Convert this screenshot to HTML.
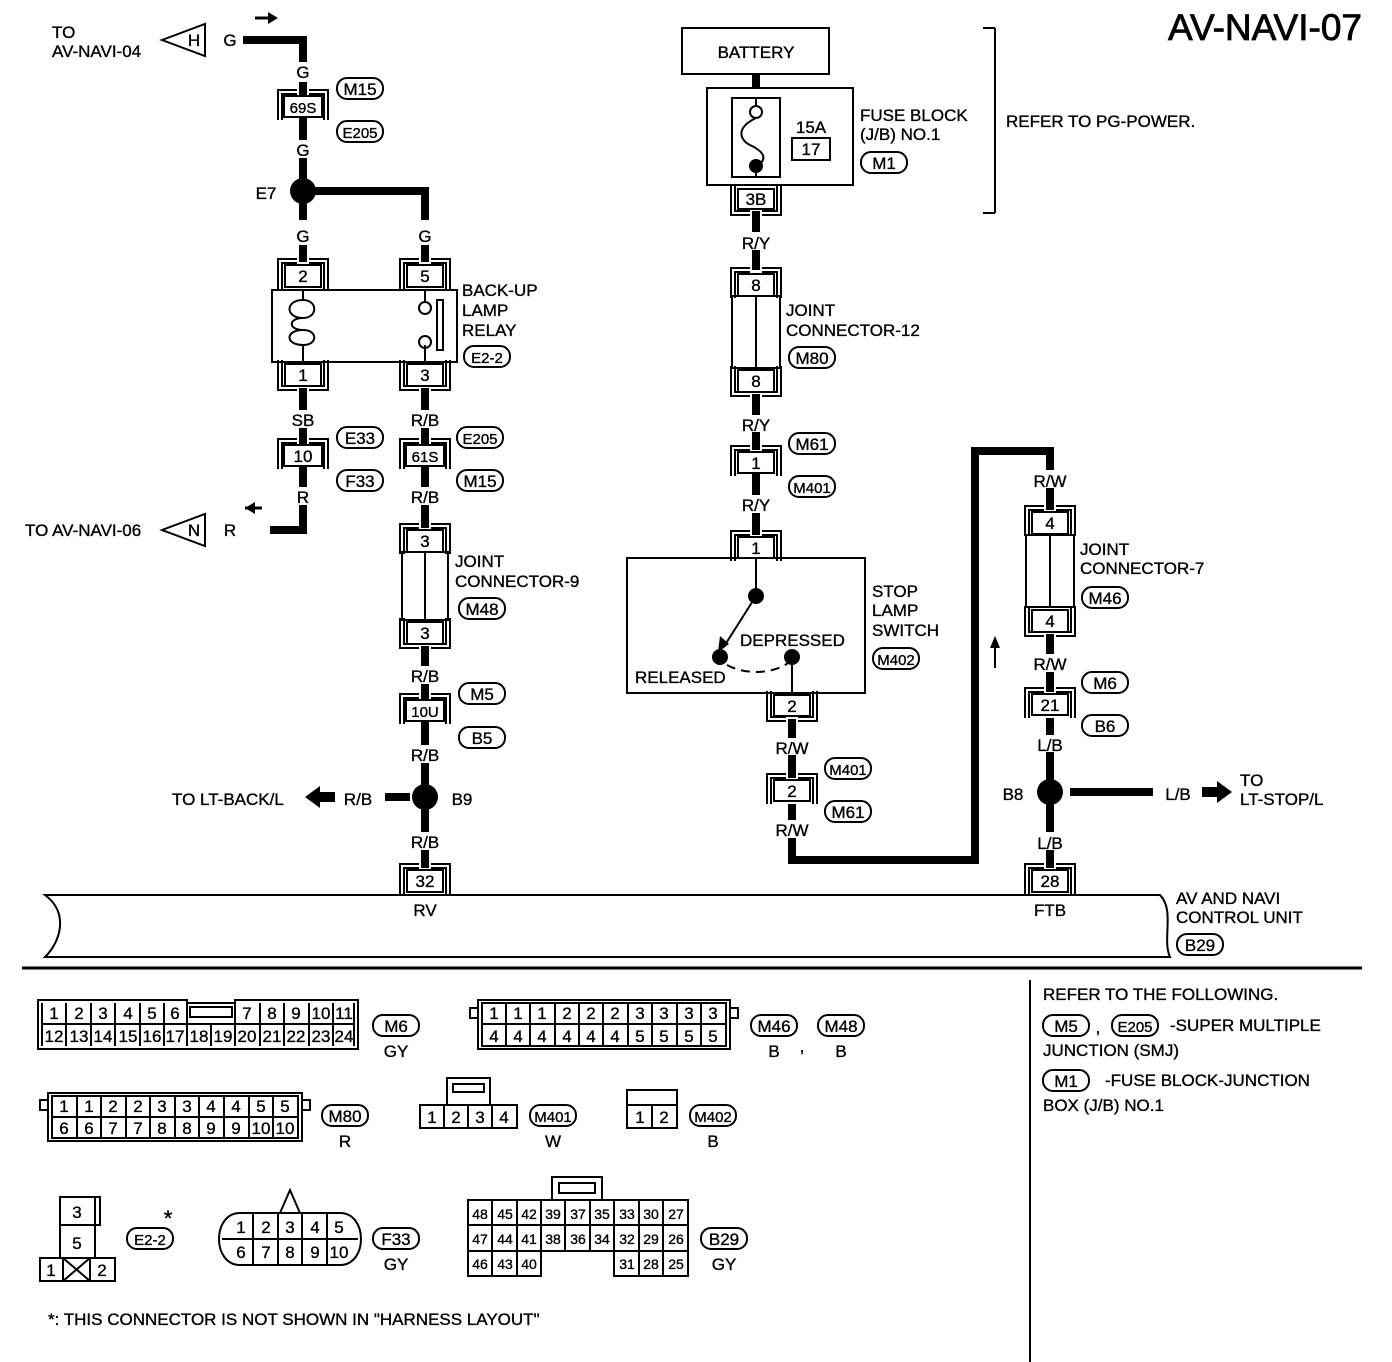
<!DOCTYPE html>
<html><head><meta charset="utf-8"><style>
html,body{margin:0;padding:0;background:#fff}
svg{display:block}
text{font-family:"Liberation Sans",Arial,sans-serif;font-size:17px;fill:#000;stroke:#000;stroke-width:0.35}
.m{text-anchor:middle}
.s{font-size:15px}
</style></head><body>
<svg width="1392" height="1362" viewBox="0 0 1392 1362" xmlns="http://www.w3.org/2000/svg">
<defs>
<path id="bt" d="M-25,24 V-6 H-6 M6,-6 H25 V24 M-21,24 V-2 H-6 M6,-2 H21 V24" fill="none" stroke="#000" stroke-width="2"/>
<path id="bb" d="M-25,-4 V26 H-6 M6,26 H25 V-4 M-21,-4 V22 H-6 M6,22 H21 V-4" fill="none" stroke="#000" stroke-width="2"/>
</defs>
<g fill="none" stroke="#000">
<g stroke-width="8">
<path d="M243,40 H303 V62"/><path d="M303,82 V96"/><path d="M303,118 V140"/><path d="M303,158 V220"/>
<path d="M303,191 H425 V220"/><path d="M303,245 V262"/><path d="M425,245 V262"/>
<path d="M303,388 V410"/><path d="M425,388 V410"/>
<path d="M303,428 V445"/><path d="M425,428 V445"/><path d="M303,467 V487"/><path d="M425,467 V487"/>
<path d="M303,505 V530 H270"/><path d="M425,505 V528"/><path d="M425,646 V666"/><path d="M425,684 V700"/>
<path d="M425,722 V745"/><path d="M425,763 V832"/><path d="M385,797 H410"/><path d="M425,850 V868"/>
<path d="M756,74 V88"/><path d="M756,211 V232"/><path d="M756,250 V270"/><path d="M756,394 V415"/>
<path d="M756,432 V450"/><path d="M756,474 V495"/><path d="M756,513 V535"/>
<path d="M792,719 V738"/><path d="M792,755 V778"/><path d="M792,804 V820"/>
<path d="M792,838 V860 H975 V451 H1050 V470"/>
<path d="M1050,488 V510"/><path d="M1050,634 V654"/><path d="M1050,672 V692"/><path d="M1050,718 V735"/>
<path d="M1050,752 V832"/><path d="M1070,792 H1153"/><path d="M1050,850 V868"/>
</g>
<path d="M255,18 H270" stroke-width="3"/><path d="M245,508 H262" stroke-width="3"/>
<path d="M995,668 V645" stroke-width="2"/>
</g>
<g fill="#000">
<polygon points="268,12 278,18 268,24"/><polygon points="255,502 245,508 255,514"/>
<polygon points="990,648 995,636 1000,648"/>
<polygon points="305,797 320,786 320,792 335,792 335,802 320,802 320,808"/>
<polygon points="1232,792 1217,781 1217,787 1202,787 1202,797 1217,797 1217,803"/>
<circle cx="303" cy="191" r="13"/><circle cx="425" cy="797" r="13"/><circle cx="1050" cy="792" r="13"/>
</g>
<g fill="#fff" stroke="#000" stroke-width="2">
<polygon points="162,40 205,24 205,56"/><polygon points="162,530 205,514 205,546"/>
</g>
<text x="194" y="46" class="m">H</text><text x="194" y="536" class="m">N</text>
<text x="52" y="38">TO</text><text x="52" y="57">AV-NAVI-04</text>
<text x="230" y="46" class="m">G</text>
<text x="25" y="536">TO AV-NAVI-06</text><text x="230" y="536" class="m">R</text>

<g fill="#fff" stroke="#000" stroke-width="2">
<rect x="284" y="96" width="38" height="21"/><rect x="284" y="445" width="38" height="21"/>
<rect x="406" y="445" width="38" height="21"/><rect x="406" y="700" width="38" height="21"/>
<rect x="285" y="265" width="36" height="22"/><rect x="407" y="265" width="36" height="22"/>
<rect x="285" y="364" width="36" height="22"/><rect x="407" y="364" width="36" height="22"/>
<rect x="272" y="290" width="185" height="72"/>
<rect x="407" y="530" width="36" height="22"/><rect x="402" y="552" width="46" height="68"/><rect x="407" y="622" width="36" height="22"/>
<rect x="407" y="870" width="36" height="22"/>
<rect x="682" y="28" width="147" height="46"/>
<rect x="707" y="88" width="146" height="97"/><rect x="732" y="98" width="48" height="79"/>
<rect x="792" y="138" width="38" height="22"/>
<rect x="738" y="189" width="36" height="20"/>
<rect x="738" y="274" width="36" height="22"/><rect x="732" y="296" width="48" height="72"/><rect x="738" y="370" width="36" height="22"/>
<rect x="738" y="452" width="36" height="21"/><rect x="738" y="537" width="36" height="21"/>
<rect x="627" y="558" width="238" height="135"/>
<rect x="774" y="695" width="36" height="21"/><rect x="774" y="780" width="36" height="21"/>
<rect x="1032" y="512" width="36" height="22"/><rect x="1026" y="535" width="48" height="72"/><rect x="1032" y="610" width="36" height="22"/>
<rect x="1032" y="694" width="36" height="21"/><rect x="1032" y="870" width="36" height="22"/>
</g>
<g stroke="#000" stroke-width="2" fill="none">
<path d="M425,552 V620 M756,296 V368 M1050,535 V607"/>
<path d="M303,290 V300 C318,300 318,318 303,318 C288,318 288,330 303,330 C318,330 318,345 303,345 V362 M303,300 C285,300 285,318 303,318 M303,330 C285,330 285,345 303,345"/>
<path d="M425,290 V302 M425,345 V362"/><circle cx="425" cy="308" r="6"/><circle cx="425" cy="342" r="6"/>
<rect x="437" y="300" width="6" height="50"/>
<path d="M756,98 V106 M756,170 V177"/><circle cx="756" cy="112" r="6" fill="#fff"/>
<path d="M756,118 C735,128 740,140 750,145 C765,152 768,160 756,166"/>
<path d="M756,558 V596 L723,648"/><path d="M727,665 C745,675 775,675 792,660" stroke-dasharray="9,6"/>
<path d="M792,657 V693"/>
<path d="M995,28 H983 M995,28 V213 M995,213 H983"/>
<path d="M45,895 H1160 C1175,910 1162,940 1170,957 H45 C62,940 68,912 45,895 Z"/>
<path d="M22,968 H1362" stroke-width="3"/><path d="M1030,980 V1362" stroke-width="2"/>
</g>
<g fill="#000"><circle cx="756" cy="166" r="7"/><circle cx="756" cy="596" r="8"/><circle cx="720" cy="657" r="8"/><circle cx="792" cy="657" r="8"/>
<polygon points="718,652 720,636 729,644"/></g>
<use href="#bt" x="303" y="96"/><use href="#bt" x="303" y="445"/><use href="#bt" x="425" y="445"/><use href="#bt" x="425" y="700"/>
<use href="#bt" x="303" y="265"/><use href="#bt" x="425" y="265"/><use href="#bb" x="303" y="364"/><use href="#bb" x="425" y="364"/>
<use href="#bt" x="425" y="530"/><use href="#bb" x="425" y="622"/><use href="#bt" x="425" y="870"/>
<use href="#bb" x="756" y="189"/><use href="#bt" x="756" y="274"/><use href="#bb" x="756" y="370"/>
<use href="#bt" x="756" y="452"/><use href="#bt" x="756" y="537"/><use href="#bb" x="792" y="695"/><use href="#bt" x="792" y="780"/>
<use href="#bt" x="1050" y="512"/><use href="#bb" x="1050" y="610"/><use href="#bt" x="1050" y="694"/><use href="#bt" x="1050" y="870"/>

<g fill="#fff" stroke="#000" stroke-width="2">
<rect x="337" y="78" width="46" height="21" rx="10"/><rect x="337" y="121" width="46" height="21" rx="10"/>
<rect x="464" y="346" width="46" height="21" rx="10"/>
<rect x="337" y="427" width="46" height="21" rx="10"/><rect x="337" y="470" width="46" height="21" rx="10"/>
<rect x="457" y="427" width="46" height="21" rx="10"/><rect x="457" y="470" width="46" height="21" rx="10"/>
<rect x="459" y="598" width="46" height="21" rx="10"/><rect x="459" y="683" width="46" height="21" rx="10"/><rect x="459" y="727" width="46" height="21" rx="10"/>
<rect x="861" y="152" width="46" height="21" rx="10"/><rect x="789" y="347" width="46" height="21" rx="10"/>
<rect x="789" y="433" width="46" height="21" rx="10"/><rect x="789" y="476" width="46" height="21" rx="10"/>
<rect x="873" y="648" width="46" height="21" rx="10"/><rect x="825" y="758" width="46" height="21" rx="10"/><rect x="825" y="801" width="46" height="21" rx="10"/>
<rect x="1082" y="587" width="46" height="21" rx="10"/><rect x="1082" y="672" width="46" height="21" rx="10"/><rect x="1082" y="715" width="46" height="21" rx="10"/>
<rect x="1177" y="934" width="46" height="21" rx="10"/>
<rect x="373" y="1015" width="46" height="21" rx="10"/><rect x="751" y="1015" width="46" height="21" rx="10"/><rect x="818" y="1015" width="46" height="21" rx="10"/>
<rect x="322" y="1105" width="46" height="21" rx="10"/><rect x="530" y="1105" width="46" height="21" rx="10"/><rect x="690" y="1105" width="46" height="21" rx="10"/>
<rect x="127" y="1228" width="46" height="21" rx="10"/><rect x="373" y="1228" width="46" height="21" rx="10"/><rect x="701" y="1228" width="46" height="21" rx="10"/>
<rect x="1043" y="1015" width="46" height="21" rx="10"/><rect x="1112" y="1015" width="46" height="21" rx="10"/><rect x="1043" y="1070" width="46" height="21" rx="10"/>
</g>
<g class="m">
<text x="360" y="95" class="m">M15</text><text x="360" y="138" class="m s">E205</text><text x="487" y="363" class="m s">E2-2</text>
<text x="360" y="444" class="m">E33</text><text x="360" y="487" class="m">F33</text>
<text x="480" y="444" class="m s">E205</text><text x="480" y="487" class="m">M15</text>
<text x="482" y="615" class="m">M48</text><text x="482" y="700" class="m">M5</text><text x="482" y="744" class="m">B5</text>
<text x="884" y="169" class="m">M1</text><text x="812" y="364" class="m">M80</text>
<text x="812" y="450" class="m">M61</text><text x="812" y="493" class="m s">M401</text>
<text x="896" y="665" class="m s">M402</text><text x="848" y="775" class="m s">M401</text><text x="848" y="818" class="m">M61</text>
<text x="1105" y="604" class="m">M46</text><text x="1105" y="689" class="m">M6</text><text x="1105" y="732" class="m">B6</text>
<text x="1200" y="951" class="m">B29</text>
<text x="396" y="1032" class="m">M6</text><text x="774" y="1032" class="m">M46</text><text x="841" y="1032" class="m">M48</text>
<text x="345" y="1122" class="m">M80</text><text x="553" y="1122" class="m s">M401</text><text x="713" y="1122" class="m s">M402</text>
<text x="150" y="1245" class="m s">E2-2</text><text x="396" y="1245" class="m">F33</text><text x="724" y="1245" class="m">B29</text>
<text x="1066" y="1032" class="m">M5</text><text x="1135" y="1032" class="m s">E205</text><text x="1066" y="1087" class="m">M1</text>
</g>

<g>
<text x="303" y="113" class="m s">69S</text><text x="303" y="462" class="m">10</text><text x="425" y="462" class="m s">61S</text><text x="425" y="717" class="m s">10U</text>
<text x="303" y="282" class="m">2</text><text x="425" y="282" class="m">5</text><text x="303" y="381" class="m">1</text><text x="425" y="381" class="m">3</text>
<text x="425" y="547" class="m">3</text><text x="425" y="639" class="m">3</text><text x="425" y="887" class="m">32</text>
<text x="756" y="58" class="m">BATTERY</text><text x="811" y="133" class="m">15A</text><text x="811" y="155" class="m">17</text>
<text x="756" y="205" class="m">3B</text><text x="756" y="291" class="m">8</text><text x="756" y="387" class="m">8</text>
<text x="756" y="469" class="m">1</text><text x="756" y="554" class="m">1</text><text x="792" y="712" class="m">2</text><text x="792" y="797" class="m">2</text>
<text x="1050" y="529" class="m">4</text><text x="1050" y="627" class="m">4</text><text x="1050" y="711" class="m">21</text><text x="1050" y="887" class="m">28</text>
<text x="303" y="78" class="m">G</text><text x="303" y="156" class="m">G</text><text x="303" y="242" class="m">G</text><text x="425" y="242" class="m">G</text>
<text x="266" y="199" class="m">E7</text>
<text x="303" y="426" class="m">SB</text><text x="425" y="426" class="m">R/B</text><text x="303" y="503" class="m">R</text><text x="425" y="503" class="m">R/B</text>
<text x="425" y="682" class="m">R/B</text><text x="425" y="761" class="m">R/B</text><text x="425" y="848" class="m">R/B</text>
<text x="462" y="805" class="m">B9</text><text x="358" y="805" class="m">R/B</text><text x="172" y="805">TO LT-BACK/L</text>
<text x="425" y="916" class="m">RV</text><text x="1050" y="916" class="m">FTB</text>
<text x="756" y="249" class="m">R/Y</text><text x="756" y="431" class="m">R/Y</text><text x="756" y="511" class="m">R/Y</text>
<text x="792" y="754" class="m">R/W</text><text x="792" y="836" class="m">R/W</text>
<text x="1050" y="487" class="m">R/W</text><text x="1050" y="670" class="m">R/W</text><text x="1050" y="751" class="m">L/B</text><text x="1050" y="849" class="m">L/B</text>
<text x="1013" y="800" class="m">B8</text><text x="1178" y="800" class="m">L/B</text>
<text x="1240" y="786">TO</text><text x="1240" y="805">LT-STOP/L</text>
<text x="462" y="296">BACK-UP</text><text x="462" y="316">LAMP</text><text x="462" y="336">RELAY</text>
<text x="455" y="567">JOINT</text><text x="455" y="587">CONNECTOR-9</text>
<text x="860" y="121">FUSE BLOCK</text><text x="860" y="140">(J/B) NO.1</text>
<text x="1006" y="127">REFER TO PG-POWER.</text>
<text x="786" y="316">JOINT</text><text x="786" y="336">CONNECTOR-12</text>
<text x="872" y="597">STOP</text><text x="872" y="616">LAMP</text><text x="872" y="636">SWITCH</text>
<text x="740" y="646">DEPRESSED</text><text x="635" y="683">RELEASED</text>
<text x="1080" y="555">JOINT</text><text x="1080" y="574">CONNECTOR-7</text>
<text x="1176" y="904">AV AND NAVI</text><text x="1176" y="923">CONTROL UNIT</text>
<text x="1362" y="40" style="font-size:37px;text-anchor:end;stroke-width:0.8">AV-NAVI-07</text>
</g>

<g fill="none" stroke="#000" stroke-width="2">
<path d="M38,1000 H187 V1003 H235 V1000 H358 V1049 H38 Z"/>
<path d="M42,1024 H354"/>
<rect x="190" y="1007" width="42" height="10"/>
<path d="M66,1003V1046 M91,1003V1046 M115,1003V1046 M140,1003V1046 M164,1003V1046 M187,1003V1046 M211,1025V1046 M235,1003V1046 M260,1003V1046 M284,1003V1046 M309,1003V1046 M333,1003V1046"/>
<path d="M42,1003 V1046 M354,1003 V1046"/>
<rect x="478" y="1000" width="252" height="49"/><rect x="470" y="1008" width="8" height="10"/><rect x="730" y="1008" width="8" height="10"/>
<path d="M482,1024 H726 M482,1003 V1046 H726 V1003 Z M506,1003V1046 M530,1003V1046 M555,1003V1046 M579,1003V1046 M603,1003V1046 M628,1003V1046 M652,1003V1046 M677,1003V1046 M701,1003V1046"/>
<rect x="48" y="1093" width="254" height="48"/><rect x="40" y="1100" width="8" height="10"/><rect x="302" y="1100" width="8" height="10"/>
<path d="M52,1117 H298 M52,1096 V1138 H298 V1096 Z M77,1096V1138 M101,1096V1138 M126,1096V1138 M150,1096V1138 M175,1096V1138 M199,1096V1138 M224,1096V1138 M249,1096V1138 M273,1096V1138"/>
<rect x="420" y="1105" width="97" height="23"/><path d="M444,1105V1128 M468,1105V1128 M492,1105V1128"/>
<rect x="447" y="1078" width="43" height="27"/><rect x="453" y="1084" width="31" height="8"/>
<rect x="627" y="1090" width="50" height="38"/><path d="M627,1105 H677 M652,1105V1128"/>
<rect x="60" y="1197" width="35" height="28"/><path d="M95,1197 H100 V1225 H95"/><rect x="60" y="1225" width="35" height="33"/>
<rect x="40" y="1258" width="75" height="23"/><path d="M63,1258V1281 M90,1258V1281 M63,1258 L90,1281 M90,1258 L63,1281"/>
<path d="M240,1213 H340 C368,1213 368,1265 340,1265 H240 C212,1265 212,1213 240,1213 Z M222,1239 H358"/>
<path d="M253,1213V1265 M278,1213V1265 M302,1213V1265 M327,1213V1265 M280,1213 L290,1190 L300,1213"/>
<path d="M468,1200 H688 V1276 H614 V1251 H541 V1276 H468 Z M468,1225 H688 M468,1251 H541 M614,1251 H688"/>
<path d="M492,1200V1276 M517,1200V1276 M541,1200V1251 M565,1200V1251 M590,1200V1251 M614,1200V1276 M639,1200V1276 M663,1200V1276"/>
<rect x="552" y="1177" width="50" height="23"/><rect x="559" y="1183" width="36" height="10"/>
</g>
<g class="s" style="font-size:16px">
<text x="54" y="1019" class="m">1</text><text x="79" y="1019" class="m">2</text><text x="103" y="1019" class="m">3</text><text x="128" y="1019" class="m">4</text><text x="152" y="1019" class="m">5</text><text x="175" y="1019" class="m">6</text>
<text x="247" y="1019" class="m">7</text><text x="272" y="1019" class="m">8</text><text x="296" y="1019" class="m">9</text><text x="321" y="1019" class="m">10</text><text x="344" y="1019" class="m">11</text>
<text x="54" y="1042" class="m">12</text><text x="79" y="1042" class="m">13</text><text x="103" y="1042" class="m">14</text><text x="128" y="1042" class="m">15</text><text x="152" y="1042" class="m">16</text><text x="175" y="1042" class="m">17</text><text x="199" y="1042" class="m">18</text><text x="223" y="1042" class="m">19</text><text x="247" y="1042" class="m">20</text><text x="272" y="1042" class="m">21</text><text x="296" y="1042" class="m">22</text><text x="321" y="1042" class="m">23</text><text x="344" y="1042" class="m">24</text>
<text x="494" y="1019" class="m">1</text><text x="518" y="1019" class="m">1</text><text x="542" y="1019" class="m">1</text><text x="567" y="1019" class="m">2</text><text x="591" y="1019" class="m">2</text><text x="615" y="1019" class="m">2</text><text x="640" y="1019" class="m">3</text><text x="664" y="1019" class="m">3</text><text x="689" y="1019" class="m">3</text><text x="713" y="1019" class="m">3</text>
<text x="494" y="1042" class="m">4</text><text x="518" y="1042" class="m">4</text><text x="542" y="1042" class="m">4</text><text x="567" y="1042" class="m">4</text><text x="591" y="1042" class="m">4</text><text x="615" y="1042" class="m">4</text><text x="640" y="1042" class="m">5</text><text x="664" y="1042" class="m">5</text><text x="689" y="1042" class="m">5</text><text x="713" y="1042" class="m">5</text>
<text x="64" y="1112" class="m">1</text><text x="89" y="1112" class="m">1</text><text x="113" y="1112" class="m">2</text><text x="138" y="1112" class="m">2</text><text x="162" y="1112" class="m">3</text><text x="187" y="1112" class="m">3</text><text x="211" y="1112" class="m">4</text><text x="236" y="1112" class="m">4</text><text x="261" y="1112" class="m">5</text><text x="285" y="1112" class="m">5</text>
<text x="64" y="1134" class="m">6</text><text x="89" y="1134" class="m">6</text><text x="113" y="1134" class="m">7</text><text x="138" y="1134" class="m">7</text><text x="162" y="1134" class="m">8</text><text x="187" y="1134" class="m">8</text><text x="211" y="1134" class="m">9</text><text x="236" y="1134" class="m">9</text><text x="261" y="1134" class="m">10</text><text x="285" y="1134" class="m">10</text>
<text x="432" y="1123" class="m">1</text><text x="456" y="1123" class="m">2</text><text x="480" y="1123" class="m">3</text><text x="504" y="1123" class="m">4</text>
<text x="640" y="1123" class="m">1</text><text x="664" y="1123" class="m">2</text>
<text x="77" y="1218" class="m">3</text><text x="77" y="1249" class="m">5</text><text x="51" y="1276" class="m">1</text><text x="102" y="1276" class="m">2</text>
<text x="168" y="1226" class="m" style="font-size:22px">*</text>
<text x="241" y="1233" class="m">1</text><text x="266" y="1233" class="m">2</text><text x="290" y="1233" class="m">3</text><text x="315" y="1233" class="m">4</text><text x="339" y="1233" class="m">5</text>
<text x="241" y="1258" class="m">6</text><text x="266" y="1258" class="m">7</text><text x="290" y="1258" class="m">8</text><text x="315" y="1258" class="m">9</text><text x="339" y="1258" class="m">10</text>
</g>
<g>
<text x="480" y="1219" class="m" style="font-size:14px">48</text><text x="505" y="1219" class="m" style="font-size:14px">45</text><text x="529" y="1219" class="m" style="font-size:14px">42</text><text x="553" y="1219" class="m" style="font-size:14px">39</text><text x="578" y="1219" class="m" style="font-size:14px">37</text><text x="602" y="1219" class="m" style="font-size:14px">35</text><text x="627" y="1219" class="m" style="font-size:14px">33</text><text x="651" y="1219" class="m" style="font-size:14px">30</text><text x="676" y="1219" class="m" style="font-size:14px">27</text>
<text x="480" y="1244" class="m" style="font-size:14px">47</text><text x="505" y="1244" class="m" style="font-size:14px">44</text><text x="529" y="1244" class="m" style="font-size:14px">41</text><text x="553" y="1244" class="m" style="font-size:14px">38</text><text x="578" y="1244" class="m" style="font-size:14px">36</text><text x="602" y="1244" class="m" style="font-size:14px">34</text><text x="627" y="1244" class="m" style="font-size:14px">32</text><text x="651" y="1244" class="m" style="font-size:14px">29</text><text x="676" y="1244" class="m" style="font-size:14px">26</text>
<text x="480" y="1269" class="m" style="font-size:14px">46</text><text x="505" y="1269" class="m" style="font-size:14px">43</text><text x="529" y="1269" class="m" style="font-size:14px">40</text><text x="627" y="1269" class="m" style="font-size:14px">31</text><text x="651" y="1269" class="m" style="font-size:14px">28</text><text x="676" y="1269" class="m" style="font-size:14px">25</text>
</g>
<text x="396" y="1057" class="m">GY</text><text x="774" y="1057" class="m">B</text><text x="802" y="1052" class="m">,</text><text x="841" y="1057" class="m">B</text>
<text x="345" y="1147" class="m">R</text><text x="553" y="1147" class="m">W</text><text x="713" y="1147" class="m">B</text>
<text x="396" y="1270" class="m">GY</text><text x="724" y="1270" class="m">GY</text>
<text x="48" y="1325">*: THIS CONNECTOR IS NOT SHOWN IN "HARNESS LAYOUT"</text>
<text x="1043" y="1000">REFER TO THE FOLLOWING.</text>
<text x="1098" y="1033" class="m">,</text><text x="1170" y="1031">-SUPER MULTIPLE</text>
<text x="1043" y="1056">JUNCTION (SMJ)</text>
<text x="1105" y="1086">-FUSE BLOCK-JUNCTION</text>
<text x="1043" y="1111">BOX (J/B) NO.1</text>
</svg>
</body></html>
